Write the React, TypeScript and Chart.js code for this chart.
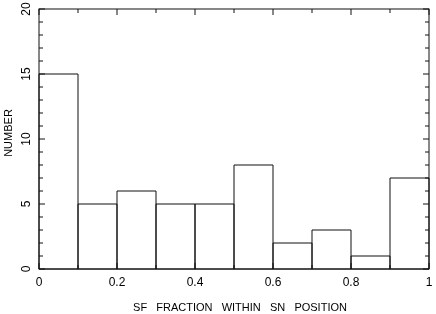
import React, { useEffect, useRef } from "react";
import { Chart, registerables } from "chart.js";

Chart.register(...registerables);

const binCenters = [0.05, 0.15, 0.25, 0.35, 0.45, 0.55, 0.65, 0.75, 0.85, 0.95];
const counts = [15, 5, 6, 5, 5, 8, 2, 3, 1, 7];
const yTickLabels = [0, 5, 10, 15, 20];
const xTitle = "SF   FRACTION   WITHIN   SN   POSITION";
const yTitle = "NUMBER";

const FONT = "Liberation Sans";

const framePlugin = {
  id: "frame",
  afterDatasetsDraw(chart: any) {
    const { ctx, chartArea, scales } = chart;
    const { left, right, top, bottom } = chartArea;
    const xs = scales.x;
    const ys = scales.y;
    ctx.save();
    ctx.strokeStyle = "#111";
    ctx.lineWidth = 1;
    // bar outlines from the library's bar elements
    const meta = chart.getDatasetMeta(0);
    ctx.beginPath();
    for (const el of meta.data) {
      const { x, y, base, width } = el.getProps(["x", "y", "base", "width"], true);
      ctx.rect(x - width / 2, y, width, base - y);
    }
    ctx.stroke();
    ctx.strokeRect(left, top, right - left, bottom - top);
    ctx.beginPath();
    for (let v = 0; v <= 20; v++) {
      const p = ys.getPixelForValue(v);
      const len = v % 5 === 0 ? 6 : 4;
      ctx.moveTo(left, p);
      ctx.lineTo(left + len, p);
      ctx.moveTo(right, p);
      ctx.lineTo(right - len, p);
    }
    for (let i = 0; i <= 10; i++) {
      const p = xs.getPixelForValue(i / 10);
      const len = i % 2 === 0 ? 6 : 4;
      ctx.moveTo(p, top);
      ctx.lineTo(p, top + len);
      ctx.moveTo(p, bottom);
      ctx.lineTo(p, bottom - len);
    }
    ctx.stroke();
    ctx.fillStyle = "#000";
    ctx.font = `12px "${FONT}"`;
    ctx.textAlign = "center";
    ctx.textBaseline = "middle";
    for (const v of yTickLabels) {
      const p = ys.getPixelForValue(v);
      ctx.save();
      ctx.translate(27, p);
      ctx.rotate(-Math.PI / 2);
      ctx.fillText(String(v), 0, 0);
      ctx.restore();
    }
    // axis titles
    ctx.font = `11px "${FONT}"`;
    ctx.save();
    ctx.translate(9, 133);
    ctx.rotate(-Math.PI / 2);
    ctx.fillText(yTitle, 0, 0);
    ctx.restore();
    ctx.fillText(xTitle, 240, 307.5);
    ctx.restore();
  },
};

export default function App() {
  const ref = useRef<HTMLCanvasElement | null>(null);
  useEffect(() => {
    document.body.style.margin = "0";
    const canvas = ref.current;
    if (!canvas) return;
    const chart = new Chart(canvas, {
      type: "bar",
      data: {
        datasets: [
          {
            data: binCenters.map((x, i) => ({ x, y: counts[i] })),
            backgroundColor: "rgba(255,255,255,0)",
            borderWidth: 0,
            barPercentage: 1,
            categoryPercentage: 1,
          },
        ],
      },
      options: {
        animation: false,
        responsive: false,
        maintainAspectRatio: false,
        devicePixelRatio: 1,
        layout: { padding: { top: 9, right: 7, left: 0, bottom: 0 } },
        plugins: { legend: { display: false }, tooltip: { enabled: false } },
        scales: {
          x: {
            type: "linear",
            min: 0,
            max: 1,
            offset: false,
            grid: { display: false, offset: false, drawTicks: false },
            border: { display: false },
            ticks: {
              stepSize: 0.2,
              padding: 6,
              color: "#000",
              font: { family: FONT, size: 12 },
              maxRotation: 0,
              callback: (v: any) => String(Number(Number(v).toFixed(1))),
            },
            afterFit: (s: any) => {
              s.height = 45;
              s.paddingLeft = 0;
              s.paddingRight = 0;
            },
          },
          y: {
            type: "linear",
            min: 0,
            max: 20,
            grid: { display: false, drawTicks: false },
            border: { display: false },
            ticks: { display: false, stepSize: 1 },
            afterFit: (s: any) => {
              s.width = 39;
              s.paddingTop = 0;
              s.paddingBottom = 0;
            },
          },
        },
      },
      plugins: [framePlugin],
    });
    return () => chart.destroy();
  }, []);
  return (
    <div style={{ width: 436, height: 314, background: "#fff" }}>
      <canvas ref={ref} width={436} height={314} style={{ display: "block" }} />
    </div>
  );
}
